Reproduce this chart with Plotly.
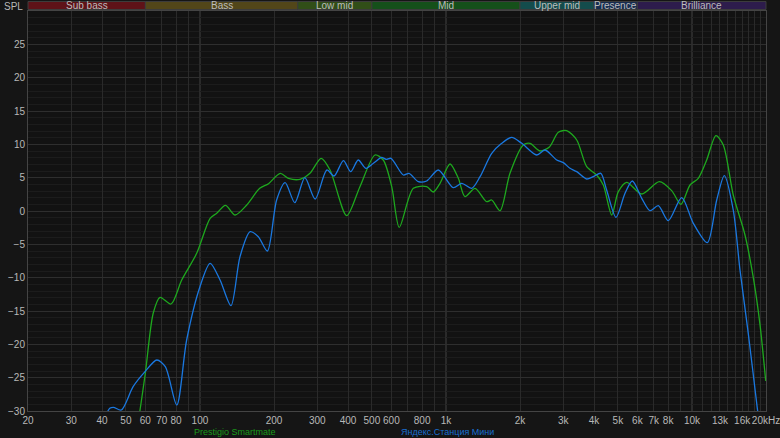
import math
import plotly.graph_objects as go

# ---- data ----
freq_green = [56, 57, 60, 64.6, 68.8, 76.3, 84.3, 97, 110, 117, 127, 139, 155, 175, 190, 212, 229, 255, 280, 311,
              338, 395, 447, 515, 556, 602, 646, 737, 835, 888, 946, 1039, 1123, 1195, 1313, 1464, 1535, 1659,
              1821, 2062, 2196, 2412, 2640, 2862, 3096, 3402, 3734, 4100, 4362, 4720, 5020, 5430, 6250, 7370,
              8270, 9020, 9820, 10610, 11480, 12520, 13410, 14720, 16430, 17760, 18900, 19950]
spl_green = [-32, -30, -24.3, -15.3, -12.95, -13.95, -10.35, -6.35, -1.1, -0.35, 0.85, -0.6, 0.9, 3.4, 4.1, 5.65,
             4.9, 4.75, 5.65, 7.9, 6.15, -0.7, 3.65, 8.4, 7.65, 3.65, -2.45, 3.4, 3.65, 2.85, 4.15, 7.05, 4.9,
             2.15, 3.4, 1.4, 1.65, 0.05, 5.65, 9.9, 10.15, 9.0, 9.65, 11.8, 12.05, 10.65, 6.65, 5.4, 3.9, -0.6,
             2.9, 4.3, 2.55, 4.4, 3.05, 1.0, 3.9, 4.9, 7.65, 11.3, 9.9, 2.4, -3.6, -10, -17, -25.5]

freq_blue = [41, 43, 44.5, 47.9, 53.5, 59.8, 66.8, 72.3, 80.5, 88.3, 100, 110, 120.7, 133.7, 145.5, 160, 172.7,
             188, 205, 222, 243, 267, 294, 328, 351, 383, 410, 440, 473, 507, 548, 571, 598, 671, 708, 772, 835,
             931, 1071, 1159, 1273, 1376, 1535, 1685, 1850, 2032, 2338, 2528, 2820, 3000, 3194, 3402, 3734, 3973,
             4260, 4500, 4912, 5345, 5724, 6250, 6754, 7300, 8016, 9085, 10130, 11550, 12610, 13540, 14720,
             15680, 16940, 18440, 18800]
spl_blue = [-31, -29.6, -29.45, -29.85, -26.35, -24.1, -22.35, -23.35, -29.1, -19.35, -11.35, -7.85, -10.35,
            -14.2, -6.85, -3.1, -3.85, -6.0, 1.65, 4.25, 1.25, 5.0, 1.8, 6.15, 5.25, 7.55, 5.9, 7.65, 6.4, 7.15,
            8.05, 7.75, 7.9, 5.4, 5.65, 4.4, 4.5, 6.15, 3.5, 4.15, 3.4, 5.15, 8.65, 10.15, 11.05, 10.15, 8.4,
            9.15, 7.65, 7.25, 6.4, 5.9, 4.8, 5.15, 5.65, 3.15, -0.95, 2.65, 4.5, 1.9, 0.05, 0.8, -1.45, 2.0,
            -1.85, -4.75, 1.65, 5.3, 0.15, -8.85, -18.35, -29.6, -32]

series_names = ["Prestigio Smartmate", "Яндекс.Станция Мини"]

band_names = ["Sub bass", "Bass", "Low mid", "Mid", "Upper mid", "Presence", "Brilliance"]
band_edges = [20, 60, 250, 500, 2000, 4000, 6000, 20000]
band_colors = ["#5e1218", "#524619", "#314e18", "#15501a", "#144c4c", "#172c50", "#2d1c4c"]

grid_freqs = ([20, 30, 40, 50, 60, 70, 80, 90, 100, 200, 300, 400, 500, 600, 700, 800, 900, 1000,
               2000, 3000, 4000, 5000, 6000, 7000, 8000, 9000, 10000, 11000, 12000, 13000, 14000, 15000,
               16000, 17000, 18000, 19000, 20000])
labels = {20: "20", 30: "30", 40: "40", 50: "50", 60: "60", 70: "70", 80: "80", 100: "100", 200: "200",
          300: "300", 400: "400", 500: "500", 600: "600", 800: "800", 1000: "1k", 2000: "2k", 3000: "3k",
          4000: "4k", 5000: "5k", 6000: "6k", 7000: "7k", 8000: "8k", 10000: "10k", 13000: "13k",
          16000: "16k", 20000: "20kHz"}
y_ticks = [-30, -25, -20, -15, -10, -5, 0, 5, 10, 15, 20, 25]

GREEN = "#1ea81e"
BLUE = "#1a78e0"
FONT = "Liberation Sans, Arial, sans-serif"

FMIN, FMAX = 20, 20000


def xfrac(f):
    return (math.log10(f) - math.log10(FMIN)) / (math.log10(FMAX) - math.log10(FMIN))


fig = go.Figure()
fig.add_trace(go.Scatter(x=freq_green, y=spl_green, mode="lines", name=series_names[0],
                         line=dict(color=GREEN, width=1.3, shape="spline", smoothing=0.8)))
fig.add_trace(go.Scatter(x=freq_blue, y=spl_blue, mode="lines", name=series_names[1],
                         line=dict(color=BLUE, width=1.3, shape="spline", smoothing=0.8)))

shapes = []
for f in [100, 1000, 10000]:
    shapes.append(dict(type="line", xref="paper", yref="paper", x0=xfrac(f), x1=xfrac(f), y0=0, y1=1,
                       line=dict(color="#4a4a4a", width=1), layer="below"))
annotations = []
for i, name in enumerate(band_names):
    x0 = xfrac(band_edges[i])
    x1 = xfrac(band_edges[i + 1])
    shapes.append(dict(type="rect", xref="paper", yref="paper", x0=x0, x1=x1, y0=1 + 1.5 / 400,
                       y1=1 + 9.5 / 400, fillcolor=band_colors[i], line=dict(color="#3c3c3c", width=1),
                       layer="above"))
    annotations.append(dict(xref="paper", yref="paper", x=(x0 + x1) / 2, y=1 + 5.5 / 400, text=name,
                            showarrow=False, font=dict(color="#bcbcbc", size=10, family=FONT),
                            xanchor="center", yanchor="middle"))

annotations.append(dict(xref="paper", yref="paper", x=-3 / 738, y=1 + 5 / 400, text="SPL", showarrow=False,
                        xanchor="right", yanchor="middle", font=dict(color="#b8b8b8", size=10, family=FONT)))
annotations.append(dict(xref="paper", yref="paper", x=(235 - 28) / 738, y=-21 / 400, text=series_names[0],
                        showarrow=False, xanchor="center", yanchor="middle",
                        font=dict(color="#1a9a1a", size=9, family=FONT)))
annotations.append(dict(xref="paper", yref="paper", x=(447 - 28) / 738, y=-21 / 400, text=series_names[1],
                        showarrow=False, xanchor="center", yanchor="middle",
                        font=dict(color="#1a6ed0", size=9, family=FONT)))

fig.update_layout(
    width=780, height=438,
    margin=dict(l=28, r=14, t=11, b=27, autoexpand=False),
    paper_bgcolor="#151515",
    plot_bgcolor="#121212",
    showlegend=False,
    shapes=shapes,
    annotations=annotations,
    font=dict(family=FONT, color="#b8b8b8", size=10),
)
eps = 1e-6
fig.update_xaxes(type="log", range=[math.log10(FMIN) - eps, math.log10(FMAX) + eps],
                 tickmode="array", tickvals=grid_freqs, ticktext=[labels.get(f, "") for f in grid_freqs],
                 showgrid=True, gridcolor="#2a2a2a", gridwidth=1, zeroline=False,
                 showline=True, linecolor="#444444", mirror=True, ticks="",
                 ticklabeloverflow="allow", tickangle=0, automargin=False,
                 tickfont=dict(color="#b8b8b8", size=10, family=FONT))
fig.update_yaxes(range=[-30, 30], tickmode="array", tickvals=y_ticks,
                 showgrid=True, gridcolor="#2e2e2e", gridwidth=1, zeroline=False,
                 showline=True, linecolor="#444444", mirror=True, ticks="",
                 ticklabeloverflow="allow", automargin=False,
                 minor=dict(tickmode="linear", tick0=0, dtick=1, showgrid=True, gridcolor="#1c1c1c"),
                 tickfont=dict(color="#b8b8b8", size=10, family=FONT))

fig.write_html("out.html", config={"displayModeBar": False},
               post_script="document.body.style.margin='0';document.body.style.overflow='hidden';"
                           "document.body.style.background='#151515';")
